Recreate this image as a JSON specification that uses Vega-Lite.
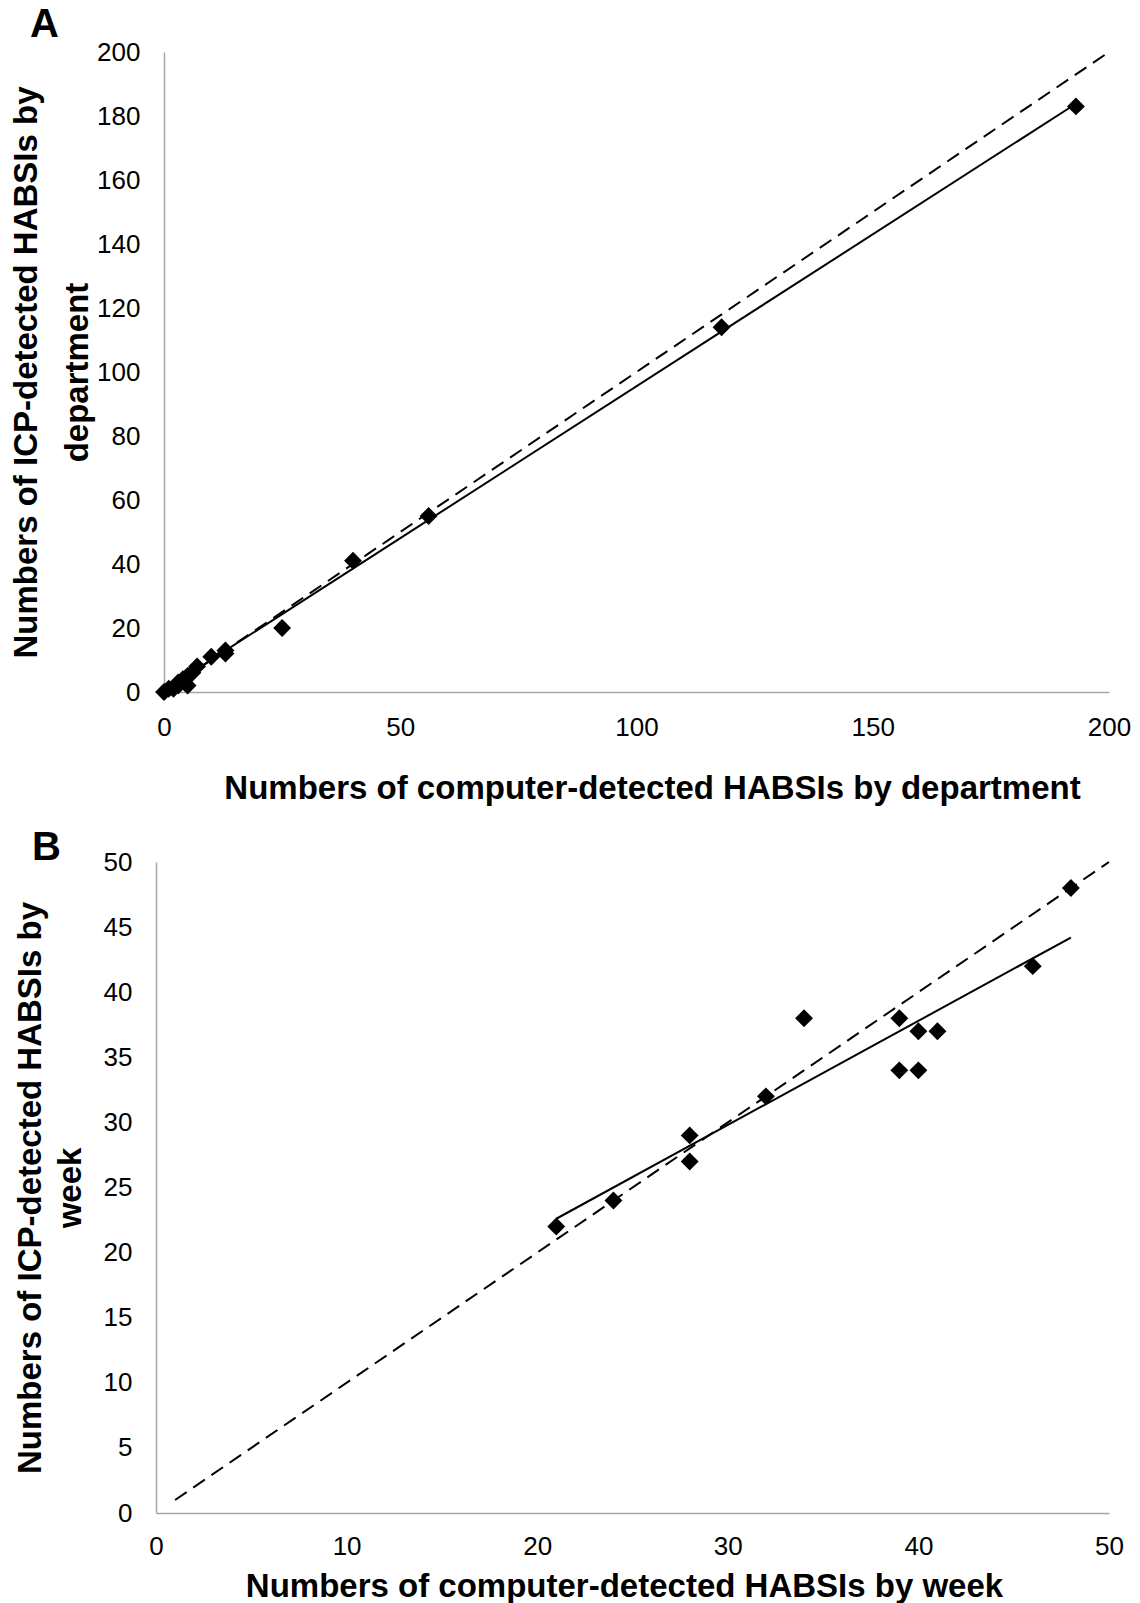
{
  "$schema": "https://vega.github.io/schema/vega-lite/v6.json",
  "padding": {"left": 10, "top": 5, "right": 10, "bottom": 0},
  "spacing": 23,
  "align": "none",
  "config": {
    "font": "Liberation Sans",
    "view": {"stroke": null},
    "axis": {
      "grid": false,
      "ticks": false,
      "labelFlush": false,
      "domainColor": "#a6a6a6",
      "domainWidth": 1.5,
      "labelFont": "Liberation Sans",
      "labelFontSize": 26,
      "labelColor": "#000000",
      "titleFont": "Liberation Sans",
      "titleFontSize": 33,
      "titleFontWeight": "bold",
      "titleColor": "#000000",
      "titleLineHeight": 48
    },
    "title": {"font": "Liberation Sans", "fontSize": 40, "fontWeight": "bold", "color": "#000000"}
  },
  "vconcat": [
    {
      "width": 945,
      "height": 640,
      "title": {"text": "A", "anchor": "start", "frame": "group", "dx": -134, "offset": -6},
      "data": {"values": [
        {"kind": "identity", "x": 0, "y": 0},
        {"kind": "identity", "x": 200, "y": 200},
        {"kind": "fit", "x": 0, "y": 0.6},
        {"kind": "fit", "x": 192, "y": 182.9},
        {"kind": "obs", "x": 0, "y": 0},
        {"kind": "obs", "x": 1, "y": 1},
        {"kind": "obs", "x": 2, "y": 1},
        {"kind": "obs", "x": 3, "y": 2},
        {"kind": "obs", "x": 3, "y": 3},
        {"kind": "obs", "x": 4, "y": 4},
        {"kind": "obs", "x": 5, "y": 2},
        {"kind": "obs", "x": 5, "y": 5},
        {"kind": "obs", "x": 6, "y": 6},
        {"kind": "obs", "x": 7, "y": 8},
        {"kind": "obs", "x": 10, "y": 11},
        {"kind": "obs", "x": 13, "y": 12},
        {"kind": "obs", "x": 13, "y": 13},
        {"kind": "obs", "x": 25, "y": 20},
        {"kind": "obs", "x": 40, "y": 41},
        {"kind": "obs", "x": 56, "y": 55},
        {"kind": "obs", "x": 118, "y": 114},
        {"kind": "obs", "x": 193, "y": 183}
      ]},
      "encoding": {
        "x": {"field": "x", "type": "quantitative",
          "scale": {"domain": [0, 200], "nice": false, "zero": false},
          "axis": {"values": [0, 50, 100, 150, 200], "labelPadding": 22, "titlePadding": 32, "titleX": 488,
                   "title": "Numbers of computer-detected HABSIs by department"}},
        "y": {"field": "y", "type": "quantitative",
          "scale": {"domain": [0, 200], "nice": false, "zero": false},
          "axis": {"values": [0, 20, 40, 60, 80, 100, 120, 140, 160, 180, 200], "labelPadding": 24, "titlePadding": 2,
                   "titleLineHeight": 51,
                   "title": ["Numbers of ICP-detected HABSIs by", "department"]}}
      },
      "layer": [
        {"transform": [{"filter": "datum.kind === 'identity'"}],
         "mark": {"type": "line", "color": "#000000", "strokeWidth": 2, "strokeDash": [14, 8]}},
        {"transform": [{"filter": "datum.kind === 'fit'"}],
         "mark": {"type": "line", "color": "#000000", "strokeWidth": 2}},
        {"transform": [{"filter": "datum.kind === 'obs'"}],
         "mark": {"type": "point", "shape": "diamond", "filled": true, "size": 320, "color": "#000000", "opacity": 1}}
      ]
    },
    {
      "width": 945,
      "height": 651,
      "title": {"text": "B", "anchor": "start", "frame": "group", "dx": -132, "offset": -19},
      "data": {"values": [
        {"kind": "identity", "x": 1, "y": 1},
        {"kind": "identity", "x": 50, "y": 50},
        {"kind": "fit", "x": 21, "y": 22.6},
        {"kind": "fit", "x": 48, "y": 44.2},
        {"kind": "obs", "x": 21, "y": 22},
        {"kind": "obs", "x": 24, "y": 24},
        {"kind": "obs", "x": 28, "y": 29},
        {"kind": "obs", "x": 28, "y": 27},
        {"kind": "obs", "x": 32, "y": 32},
        {"kind": "obs", "x": 34, "y": 38},
        {"kind": "obs", "x": 39, "y": 38},
        {"kind": "obs", "x": 39, "y": 34},
        {"kind": "obs", "x": 40, "y": 34},
        {"kind": "obs", "x": 40, "y": 37},
        {"kind": "obs", "x": 41, "y": 37},
        {"kind": "obs", "x": 46, "y": 42},
        {"kind": "obs", "x": 48, "y": 48}
      ]},
      "encoding": {
        "x": {"field": "x", "type": "quantitative",
          "scale": {"domain": [0, 50], "range": [-8, 945], "nice": false, "zero": false},
          "axis": {"values": [0, 10, 20, 30, 40, 50], "labelPadding": 20, "titlePadding": 11, "titleX": 460,
                   "title": "Numbers of computer-detected HABSIs by week"}},
        "y": {"field": "y", "type": "quantitative",
          "scale": {"domain": [0, 50], "nice": false, "zero": false},
          "axis": {"values": [0, 5, 10, 15, 20, 25, 30, 35, 40, 45, 50], "labelPadding": 24, "titlePadding": 16,
                   "offset": 8, "titleLineHeight": 40,
                   "title": ["Numbers of ICP-detected HABSIs by", "week"]}}
      },
      "layer": [
        {"transform": [{"filter": "datum.kind === 'identity'"}],
         "mark": {"type": "line", "color": "#000000", "strokeWidth": 2, "strokeDash": [14, 8]}},
        {"transform": [{"filter": "datum.kind === 'fit'"}],
         "mark": {"type": "line", "color": "#000000", "strokeWidth": 2}},
        {"transform": [{"filter": "datum.kind === 'obs'"}],
         "mark": {"type": "point", "shape": "diamond", "filled": true, "size": 320, "color": "#000000", "opacity": 1}}
      ]
    }
  ]
}
